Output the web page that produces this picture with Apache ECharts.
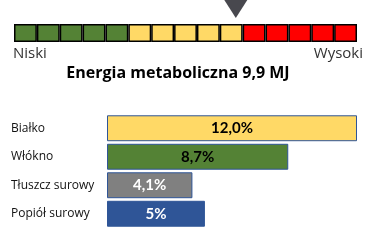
<!DOCTYPE html>
<html>
<head>
<meta charset="utf-8">
<script src="https://cdn.jsdelivr.net/npm/echarts@6/dist/echarts.min.js"></script>
<style>
  html, body { margin: 0; padding: 0; background: #fff; }
  #chart { width: 375px; height: 241px; }
</style>
</head>
<body>
<div id="chart"></div>
<script>
// skala energii - 15 pól
const scaleCells = ['1', '2', '3', '4', '5', '6', '7', '8', '9', '10', '11', '12', '13', '14', '15'];
const scaleColors = ['#548235', '#548235', '#548235', '#548235', '#548235',
  '#FFD966', '#FFD966', '#FFD966', '#FFD966', '#FFD966',
  '#FF0000', '#FF0000', '#FF0000', '#FF0000', '#FF0000'];
const markerPos = 9.7; // pozycja wskaźnika na skali (0-15)
const scaleLow = 'Niski';
const scaleHigh = 'Wysoki';
const titleText = 'Energia metaboliczna 9,9 MJ';

// składniki
const categories = ['Białko', 'Włókno', 'Tłuszcz surowy', 'Popiół surowy'];
const values = [12.0, 8.7, 4.1, 4.7];
const valueLabels = ['12,0%', '8,7%', '4,1%', '5%'];
const barColors = ['#FFD966', '#548235', '#808080', '#2F5597'];
const labelColors = ['#000000', '#000000', '#FFFFFF', '#FFFFFF'];

const chart = echarts.init(document.getElementById('chart'));

const option = {
  animation: false,
  textStyle: { fontFamily: 'Open Sans' },
  graphic: [
    { type: 'text', left: 13, top: 46, style: { text: scaleLow, fontFamily: 'Open Sans', fontSize: 15, fill: '#333' } },
    { type: 'text', right: 12, top: 46, style: { text: scaleHigh, fontFamily: 'Open Sans', fontSize: 15, fill: '#333' } },
    {
      type: 'text', x: 178, y: 73,
      style: {
        text: titleText, fontFamily: 'Open Sans', fontSize: 16, fontWeight: 'bold', fill: '#000',
        align: 'center', verticalAlign: 'middle'
      }
    }
  ],
  grid: [
    { left: 14, top: 24, width: 343, height: 18 },          // skala
    { left: 14, top: 0, width: 343, height: 18 },           // wskaźnik
    { left: 107, top: 114, width: 250, height: 114 }        // słupki
  ],
  xAxis: [
    { gridIndex: 0, type: 'category', data: scaleCells, show: false },
    { gridIndex: 1, type: 'value', min: 0, max: 15, show: false },
    { gridIndex: 2, type: 'value', min: 0, max: 12, show: false }
  ],
  yAxis: [
    { gridIndex: 0, type: 'value', min: 0, max: 1, show: false },
    { gridIndex: 1, type: 'value', min: 0, max: 1, show: false },
    {
      gridIndex: 2,
      type: 'category',
      data: categories,
      inverse: true,
      axisLine: { show: false },
      axisTick: { show: false },
      splitLine: { show: false },
      axisLabel: { align: 'left', margin: 96, fontSize: 12, color: '#111', fontFamily: 'Open Sans' }
    }
  ],
  series: [
    {
      type: 'bar',
      xAxisIndex: 0,
      yAxisIndex: 0,
      data: scaleCells.map((c, i) => ({ value: 1, itemStyle: { color: scaleColors[i] } })),
      barWidth: '100%',
      itemStyle: { borderColor: '#000', borderWidth: 1.5 },
      silent: true
    },
    {
      type: 'scatter',
      xAxisIndex: 1,
      yAxisIndex: 1,
      data: [[markerPos, 0.5]],
      symbol: 'triangle',
      symbolRotate: 180,
      symbolSize: [23, 18],
      itemStyle: { color: '#1a1a22' },
      silent: true
    },
    {
      type: 'bar',
      xAxisIndex: 2,
      yAxisIndex: 2,
      barCategoryGap: '9%',
      data: values.map((v, i) => ({
        value: v,
        itemStyle: { color: barColors[i] },
        label: { color: labelColors[i] }
      })),
      itemStyle: { borderColor: '#2F5597', borderWidth: 1 },
      label: {
        show: true,
        position: 'inside',
        fontFamily: 'Lato',
        fontSize: 15,
        fontWeight: 'bold',
        formatter: p => valueLabels[p.dataIndex]
      },
      silent: true
    }
  ]
};

chart.setOption(option);
</script>
</body>
</html>
